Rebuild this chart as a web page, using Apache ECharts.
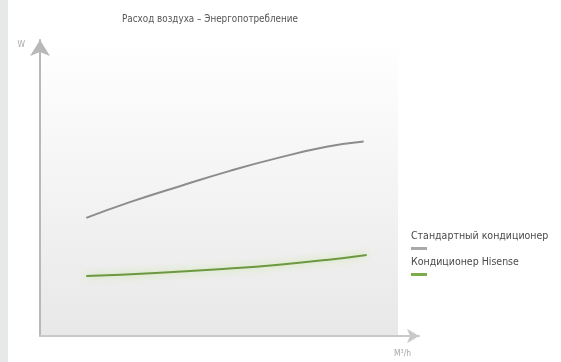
<!DOCTYPE html>
<html>
<head>
<meta charset="utf-8">
<style>
  html, body { margin: 0; padding: 0; background: #ffffff; }
  #chart { width: 561px; height: 362px; }
</style>
<script src="https://cdn.jsdelivr.net/npm/echarts@6/dist/echarts.min.js"></script>
</head>
<body>
<div id="chart"></div>
<script>
// Airflow (x) vs. power draw (y), arbitrary units on both axes
const titleText = 'Расход воздуха – Энергопотребление';
const seriesNames = ['Стандартный кондиционер', 'Кондиционер Hisense'];
const yAxisName = 'W';
const xAxisName = 'M³/h';

const standardX = [12.2, 23.9, 37.1, 49.9, 62.3, 75.6, 85.4];
const standardY = [39.9, 45.3, 50.7, 55.7, 60.0, 63.9, 65.7];

const hisenseX = [12.2, 30.5, 49.9, 62.3, 75.6, 86.2];
const hisenseY = [20.3, 21.3, 22.8, 24.0, 25.7, 27.4];

const grayColor = '#8c8c8c';
const greenColor = '#6c9842';
const font = '"DejaVu Sans Condensed", "DejaVu Sans", sans-serif';

const pairs = (xs, ys) => xs.map((x, i) => [x, ys[i]]);

const chart = echarts.init(document.getElementById('chart'), null, { renderer: 'canvas' });

chart.setOption({
  backgroundColor: '#ffffff',
  animation: false,
  title: {
    text: titleText,
    left: 117,
    top: 9,
    textStyle: { fontFamily: font, fontSize: 9.8, fontWeight: 'normal', color: '#555' }
  },
  grid: { left: 40, top: 40, width: 379, height: 296, containLabel: false },
  xAxis: {
    type: 'value', min: 0, max: 100,
    name: xAxisName,
    nameLocation: 'end',
    nameGap: -25,
    nameTextStyle: { fontFamily: font, fontSize: 8.5, color: '#a8a8a8', verticalAlign: 'top', padding: [13, 0, 0, 0] },
    axisLine: { show: true, symbol: ['none', 'arrow'], symbolSize: [11, 12], lineStyle: { color: '#c9c9c9', width: 2 } },
    axisTick: { show: false }, axisLabel: { show: false }, splitLine: { show: false }
  },
  yAxis: {
    type: 'value', min: 0, max: 100,
    name: yAxisName,
    nameLocation: 'end',
    nameGap: 0,
    nameTextStyle: { fontFamily: font, fontSize: 8.5, color: '#a8a8a8', align: 'right', verticalAlign: 'top', padding: [0, 15, 0, 0] },
    axisLine: { show: true, symbol: ['none', 'arrow'], symbolSize: [15, 16], lineStyle: { color: '#b8b8b8', width: 2 } },
    axisTick: { show: false }, axisLabel: { show: false }, splitLine: { show: false }
  },
  graphic: [
    // narrow strip along the left edge
    { type: 'rect', z: -10, shape: { x: 0, y: 0, width: 8, height: 362 }, style: { fill: '#e7e8e8' } },
    // shaded plotting panel
    {
      type: 'rect', z: -9, shape: { x: 41, y: 42, width: 357, height: 294 },
      style: {
        fill: new echarts.graphic.LinearGradient(0, 0, 0, 1, [
          { offset: 0, color: '#ffffff' },
          { offset: 1, color: '#e8e8e8' }
        ])
      }
    },
    // legend
    { type: 'text', left: 411, top: 231, style: { text: seriesNames[0], font: '10.5px ' + font, fill: '#4a4a4a' } },
    { type: 'rect', shape: { x: 411, y: 247, width: 16, height: 3 }, style: { fill: '#a9a9a9' } },
    { type: 'text', left: 411, top: 257, style: { text: seriesNames[1], font: '10.5px ' + font, fill: '#4a4a4a' } },
    { type: 'rect', shape: { x: 411, y: 273, width: 16, height: 3 }, style: { fill: '#7cab4a' } }
  ],
  series: [
    {
      name: seriesNames[0], type: 'line', smooth: 0.5, showSymbol: false,
      data: pairs(standardX, standardY),
      lineStyle: { color: grayColor, width: 2 }
    },
    {
      name: seriesNames[1], type: 'line', smooth: 0.5, showSymbol: false,
      data: pairs(hisenseX, hisenseY),
      lineStyle: { color: greenColor, width: 2, shadowColor: 'rgba(180, 230, 110, 0.8)', shadowBlur: 7 }
    }
  ]
});
</script>
</body>
</html>
